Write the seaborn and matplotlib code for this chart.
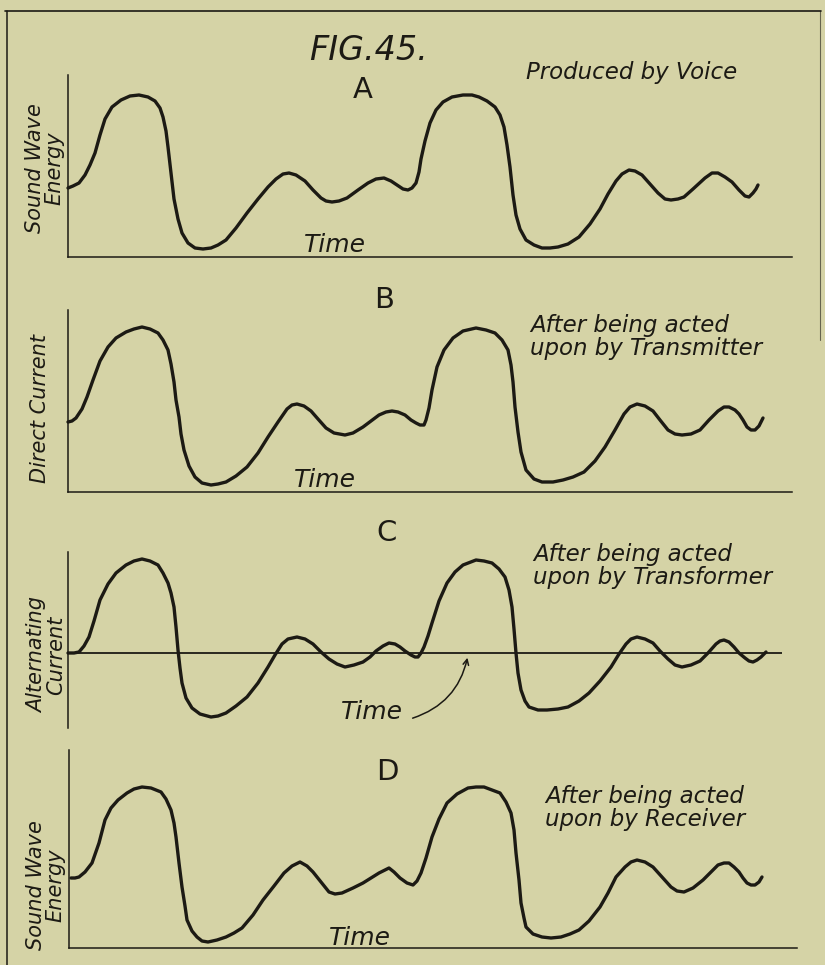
import matplotlib
matplotlib.use("Agg")
import matplotlib.pyplot as plt
from matplotlib.lines import Line2D
import seaborn as sns

# Curves.
# time: distance along the time axis, value: height above the time axis (arbitrary units)
time_a = [0, 5, 11, 17, 22, 27, 32, 37, 44, 53, 62, 71, 80, 87, 92, 95, 98, 100, 103, 106,
          110, 114, 120, 127, 135, 143, 150, 158, 168, 179, 190, 200, 208, 215, 221, 228, 237, 245, 253, 258,
          264, 271, 279, 290, 300, 308, 316, 323, 329, 335, 340, 344, 348, 351, 353, 357, 362, 368, 375, 384,
          395, 404, 411, 419, 427, 432, 436, 439, 442, 445, 448, 452, 458, 466, 474, 482, 490, 500, 511, 522,
          532, 540, 548, 554, 561, 567, 574, 582, 590, 597, 603, 610, 616, 625, 637, 644, 650, 657, 664, 671,
          677, 681, 685, 688, 690]
wave_a = [69, 71, 74, 82, 92, 104, 122, 138, 150, 157, 161, 162, 160, 156, 149, 140, 126, 110, 84, 58,
          38, 24, 14, 9, 8, 9, 12, 17, 29, 44, 58, 70, 78, 83, 84, 82, 76, 67, 59, 56,
          55, 56, 59, 67, 74, 78, 79, 76, 72, 68, 67, 69, 74, 85, 98, 116, 134, 147, 155, 160,
          162, 162, 160, 156, 150, 142, 130, 112, 90, 62, 42, 28, 17, 12, 9, 9, 10, 13, 20, 33,
          48, 63, 76, 83, 87, 86, 82, 73, 64, 58, 57, 58, 60, 68, 79, 84, 84, 80, 75, 67,
          61, 60, 64, 68, 72]

time_b = [0, 4, 8, 14, 19, 25, 32, 40, 48, 58, 66, 74, 82, 90, 95, 100, 103, 106, 108, 111,
          113, 116, 121, 127, 134, 143, 150, 158, 168, 179, 190, 200, 210, 219, 224, 229, 236, 243, 250, 258,
          266, 277, 285, 295, 303, 311, 318, 324, 330, 337, 343, 348, 352, 356, 358, 361, 364, 369, 376, 385,
          395, 408, 418, 427, 434, 440, 443, 445, 447, 450, 453, 458, 466, 474, 485, 495, 505, 516, 527, 537,
          547, 556, 562, 569, 577, 585, 592, 600, 607, 614, 623, 632, 641, 650, 656, 661, 667, 671, 675, 679,
          683, 687, 691, 695]
current_b = [70, 71, 74, 83, 95, 112, 131, 145, 154, 160, 163, 165, 163, 159, 152, 142, 128, 110, 92, 75,
             58, 42, 26, 15, 9, 7, 8, 10, 16, 25, 39, 55, 70, 83, 87, 88, 86, 81, 73, 64,
             59, 57, 59, 65, 71, 77, 80, 81, 80, 77, 72, 69, 67, 67, 72, 84, 102, 125, 142, 154,
             161, 164, 162, 159, 152, 142, 127, 110, 85, 60, 40, 22, 13, 10, 10, 12, 15, 20, 31, 45,
             62, 78, 85, 88, 86, 81, 72, 62, 58, 57, 58, 62, 72, 81, 85, 85, 82, 78, 72, 65,
             62, 62, 66, 74]

time_c = [0, 6, 11, 16, 21, 26, 32, 40, 48, 58, 66, 74, 82, 90, 95, 100, 103, 106, 108, 110,
          112, 114, 118, 124, 132, 143, 150, 158, 168, 179, 190, 200, 207, 214, 220, 229, 237, 245, 253, 261,
          269, 277, 286, 295, 302, 308, 315, 321, 327, 332, 337, 343, 347, 350, 353, 356, 360, 364, 371, 379,
          387, 395, 408, 416, 424, 431, 437, 441, 444, 446, 448, 450, 453, 457, 461, 470, 479, 490, 500, 511,
          521, 532, 543, 551, 558, 563, 569, 577, 585, 592, 600, 607, 614, 623, 632, 640, 648, 652, 656, 661,
          666, 671, 677, 681, 685, 689, 693, 696, 698]
current_c = [0, 0, 1, 7, 16, 32, 53, 69, 80, 88, 92, 94, 92, 88, 80, 70, 60, 46, 26, 3,
             -15, -30, -45, -55, -61, -64, -63, -60, -53, -44, -30, -14, -2, 9, 14, 16, 14, 9, 1, -6,
             -11, -14, -12, -9, -4, 2, 7, 10, 9, 6, 2, -2, -4, -4, 0, 6, 17, 30, 52, 70,
             81, 88, 93, 92, 90, 84, 76, 63, 46, 24, 0, -20, -37, -48, -54, -57, -57, -56, -54, -48,
             -40, -28, -14, -1, 9, 14, 16, 14, 10, 2, -6, -12, -14, -12, -8, 0, 9, 12, 13, 11,
             6, 0, -5, -8, -9, -7, -4, -1, 1]

time_d = [2, 6, 10, 16, 23, 30, 36, 42, 49, 58, 65, 73, 82, 92, 97, 102, 105, 107, 110, 113,
          116, 118, 123, 128, 133, 139, 148, 157, 165, 173, 184, 194, 205, 215, 223, 231, 238, 244, 252, 260,
          266, 273, 284, 294, 302, 310, 316, 320, 325, 331, 338, 344, 348, 352, 357, 363, 370, 378, 388, 399,
          407, 415, 423, 431, 437, 442, 445, 447, 450, 452, 455, 457, 464, 473, 482, 492, 501, 510, 520, 531,
          539, 547, 556, 562, 568, 576, 584, 593, 602, 608, 615, 624, 634, 642, 649, 655, 660, 665, 670, 674,
          678, 682, 686, 690, 693]
wave_d = [70, 70, 71, 76, 85, 105, 128, 140, 148, 155, 159, 161, 160, 156, 149, 138, 125, 111, 85, 61,
          42, 28, 17, 11, 7, 6, 8, 11, 15, 20, 33, 48, 62, 75, 82, 86, 82, 76, 66, 56,
          54, 55, 60, 65, 70, 75, 78, 80, 76, 70, 65, 63, 67, 75, 90, 111, 129, 145, 154, 160,
          161, 161, 158, 155, 146, 135, 118, 95, 68, 45, 30, 21, 14, 11, 10, 11, 14, 18, 27, 41,
          55, 71, 81, 86, 88, 86, 81, 71, 61, 57, 56, 60, 68, 76, 83, 85, 85, 81, 76, 70,
          65, 63, 63, 66, 71]

letters = ["A", "B", "C", "D"]
ylabels = ["Sound Wave\nEnergy", "Direct Current", "Alternating\nCurrent", "Sound Wave\nEnergy"]
notes = ["Produced by Voice",
         "After being acted\nupon by Transmitter",
         "After being acted\nupon by Transformer",
         "After being acted\nupon by Receiver"]

paper = "#d5d3a6"
ink = "#1c1a14"

sns.set_style("white")
plt.rcParams["font.family"] = ["DejaVu Sans"]

W, H = 825, 965
fig = plt.figure(figsize=(W / 100, H / 100), dpi=100, facecolor=paper)


def fx(x):
    return x / W


def fy(y):
    return 1 - y / H


def box(l, t, r, b):
    return [fx(l), fy(b), (r - l) / W, (b - t) / H]


# axes frames in pixel positions of the scan
frames = [box(68, 75, 792, 257), box(68, 310, 792, 492), box(68, 552, 782, 728), box(69, 750, 797, 948)]
xlims = [(0, 724), (0, 724), (0, 714), (0, 728)]
ylims = [(0, 182), (0, 182), (-75, 101), (0, 198)]
series = [(time_a, wave_a), (time_b, current_b), (time_c, current_c), (time_d, wave_d)]

for i, (rect, (t, v)) in enumerate(zip(frames, series)):
    ax = fig.add_axes(rect)
    ax.set_facecolor("none")
    sns.lineplot(x=t, y=v, ax=ax, color=ink, lw=2.4, sort=False, estimator=None)
    ax.lines[-1].set_clip_on(False)
    ax.lines[-1].set_solid_capstyle("round")
    ax.lines[-1].set_solid_joinstyle("round")
    ax.set_xlim(*xlims[i])
    ax.set_ylim(*ylims[i])
    ax.set_xticks([])
    ax.set_yticks([])
    ax.set_xlabel("")
    ax.set_ylabel("")
    for s in ["top", "right"]:
        ax.spines[s].set_visible(False)
    ax.spines["left"].set_color(ink)
    ax.spines["left"].set_linewidth(1.1)
    ax.spines["bottom"].set_color(ink)
    ax.spines["bottom"].set_linewidth(1.1)
    if i == 2:
        ax.spines["bottom"].set_visible(False)
        ax.axhline(0, color=ink, lw=1.3)
        ax.annotate("", xy=(400, -2), xytext=(342, -66),
                    arrowprops=dict(arrowstyle="->", color=ink, lw=1.1,
                                    connectionstyle="arc3,rad=0.3"))

txt = dict(color=ink, style="italic", va="center")

fig.text(fx(368), fy(50), "FIG.45.", fontsize=24, ha="center", **txt)

letter_pos = [(363, 90), (384, 300), (387, 533), (387, 772)]
for letter, (x, y) in zip(letters, letter_pos):
    fig.text(fx(x), fy(y), letter, fontsize=21, color=ink, ha="center", va="center")

note_pos = [(526, 72), (530, 337), (533, 566), (545, 808)]
for note, (x, y) in zip(notes, note_pos):
    fig.text(fx(x), fy(y), note, fontsize=16.5, linespacing=1.0, ha="left",
             multialignment="left", **txt)

time_pos = [(335, 245), (325, 480), (372, 712), (360, 938)]
for x, y in time_pos:
    fig.text(fx(x), fy(y), "Time", fontsize=18, ha="center", **txt)

ylabel_pos = [(45, 168), (40, 408), (47, 655), (46, 885)]
for lab, (x, y) in zip(ylabels, ylabel_pos):
    fig.text(fx(x), fy(y), lab, fontsize=15, rotation=90, linespacing=0.95,
             multialignment="center", ha="center", **txt)

# page border of the plate
fig.add_artist(Line2D([fx(5), fx(821)], [fy(11), fy(11)], color=ink, lw=1.2))
fig.add_artist(Line2D([fx(7), fx(7)], [fy(11), fy(965)], color=ink, lw=1.1))
fig.add_artist(Line2D([fx(820), fx(820)], [fy(11), fy(340)], color=ink, lw=0.8, alpha=0.6))

fig.savefig("out.png", dpi=100, facecolor=paper)
